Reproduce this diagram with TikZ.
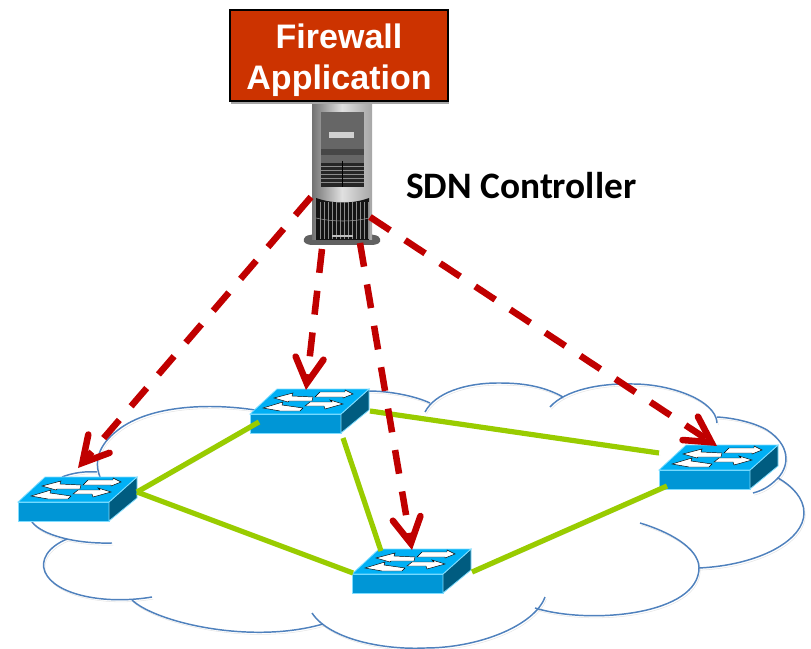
\documentclass[tikz,border=0pt]{standalone}
\usepackage{fontspec}
\setmainfont{Liberation Sans}
\newfontfamily\carl{Carlito}
\usetikzlibrary{arrows.meta,shadows,shapes.geometric}
\definecolor{fwred}{HTML}{CC3300}
\definecolor{ctlred}{HTML}{C00000}
\definecolor{linkgreen}{HTML}{99CC00}
\definecolor{cloudblue}{HTML}{4F81BD}
\definecolor{swtop}{HTML}{00B0F5}
\definecolor{swfront}{HTML}{0096D6}
\definecolor{swside}{HTML}{005C80}
\definecolor{swedge}{HTML}{80DDFF}
\tikzset{
  x=0.75pt,y=-0.75pt,
  fwbox/.style={draw=black,line width=1.3pt,fill=fwred,text=white,align=center,
    minimum width=163.5pt,minimum height=68pt,inner sep=0pt,
    font=\bfseries\fontsize{25.5}{30.5}\selectfont,
    drop shadow={shadow xshift=1pt,shadow yshift=-2.5pt,opacity=.35,fill=black}},
  swnode/.style={anchor=north west,minimum width=89.25pt,minimum height=33pt,inner sep=0pt},
  srvnode/.style={anchor=north west,minimum width=58.5pt,minimum height=105pt,inner sep=0pt},
  lbl/.style={anchor=west,inner sep=0pt,font=\carl\bfseries\fontsize{28}{32}\selectfont},
  softshadow/.style={preaction={draw=black,draw opacity=.10,transform canvas={shift={(1pt,-1.6pt)}}}},
  cloudline/.style={draw=cloudblue,line width=1.1pt,softshadow},
  link/.style={draw=linkgreen,line width=3.9pt,softshadow},
  ctl/.style={draw=ctlred,line width=4.9pt,dash pattern=on 18pt off 13.5pt,
    -{Straight Barb[length=19pt,width=21pt,line width=4.9pt,line cap=round]}},
  swarrow/.style={fill=white,draw=black,line width=.35pt},
}
\newcommand{\swbox}[3]{%
  \node[swnode] (#1) at (#2,#3) {};
  \begin{scope}[shift={(#2,#3)}]
    \fill[swfront,draw=swedge,line width=.6pt] (0,25) -- (91,25) -- (91,44) -- (0,44) -- cycle;
    \fill[swside,draw=swedge,line width=.6pt] (91,25) -- (119,0) -- (119,21) -- (91,44) -- cycle;
    \fill[swtop,draw=swedge,line width=.6pt] (27,0) -- (119,0) -- (91,25) -- (0,25) -- cycle;
    \path[swarrow] (24,9) -- (43,4) -- (42,7) -- (63,8) -- (62,12) -- (39,12) -- (38,13) -- cycle;
    \path[swarrow] (65,8) -- (70,3) -- (95,3) -- (95,1) -- (103,5) -- (93,9) -- (93,8) -- cycle;
    \path[swarrow] (13,19) -- (33,13) -- (32,16) -- (53,19) -- (50,22) -- (30,22) -- cycle;
    \path[swarrow] (55,17) -- (60,13) -- (82,13) -- (80,11) -- (93,15) -- (75,20) -- (74,17) -- cycle;
  \end{scope}}
\begin{document}
\begin{tikzpicture}
\useasboundingbox (0,0) rectangle (811,649);
% cloud
\draw[cloudline] (100,477) .. controls (94,462) and (98,445) .. (118,430) .. controls (150,405) and (210,403) .. (255,410);
\draw[cloudline] (62,477) .. controls (72,473) and (85,471) .. (97,472);
\draw[cloudline] (32,522) .. controls (42,535) and (75,544) .. (112,543);
\draw[cloudline] (67,539) .. controls (48,547) and (40,560) .. (45,572) .. controls (55,595) and (105,605) .. (152,597);
\draw[cloudline] (132,600) .. controls (155,622) and (250,645) .. (323,624);
\draw[cloudline] (312,613) .. controls (330,640) and (385,650) .. (425,648) .. controls (480,648) and (535,625) .. (545,597);
\draw[cloudline] (535,608) .. controls (590,625) and (700,615) .. (699,567) .. controls (698,548) and (670,532) .. (640,523);
\draw[cloudline] (699,568) .. controls (760,565) and (804,540) .. (804,513) .. controls (804,498) and (792,486) .. (778,478) .. controls (772,484) and (765,490) .. (753,493);
\draw[cloudline] (778,478) .. controls (790,465) and (790,445) .. (767,430) .. controls (755,423) and (735,418) .. (717,417);
\draw[cloudline] (717,423) .. controls (716,400) and (670,384) .. (633,384) .. controls (600,383) and (565,390) .. (550,407);
\draw[cloudline] (563,397) .. controls (540,384) and (515,383) .. (498,383) .. controls (465,383) and (435,393) .. (425,412);
\draw[cloudline] (430,403) .. controls (415,396) and (390,391) .. (368,391);
% switches
\swbox{sa}{18}{477}
\swbox{sb}{250}{389}
\swbox{sc}{352}{549}
\swbox{sd}{659}{445}
% links
\draw[link] ([shift={(119,15)}]sa.north west) -- ([shift={(9,33)}]sb.north west);
\draw[link] ([shift={(119,15)}]sa.north west) -- ([shift={(1,24)}]sc.north west);
\draw[link] ([shift={(93,49)}]sb.north west) -- ([shift={(29,2)}]sc.north west);
\draw[link] ([shift={(120,22)}]sb.north west) -- ([shift={(0,8)}]sd.north west);
\draw[link] ([shift={(120,23)}]sc.north west) -- ([shift={(8,41)}]sd.north west);
% server
\node[srvnode] (srv) at (303,105) {};
\begin{scope}[shift={(303,105)}]
  \fill[rounded corners=2pt,black!62] (0,137) -- (2,131) -- (12,129) -- (66,129) -- (76,131) -- (78,137) -- (72,140) -- (6,140) -- cycle;
  \fill[left color=black!55,right color=black!35,middle color=black!12] (9,0) rectangle (69,135);
  \fill[black!60] (18,7) rectangle (61,58);
  \fill[black!18] (26,27) rectangle (51,33);
  \fill[black!72] (18,44) rectangle (61,50);
  \fill[black!85] (18,58) rectangle (61,82);
  \foreach \yy in {61,65,69,73,77} \draw[black!45,line width=.4pt] (18,\yy) -- (61,\yy);
  \draw[black,line width=.6pt] (39.5,56) -- (39.5,82);
  \fill[black!92] (13,93) .. controls (30,99) and (50,99) .. (66,93) -- (66,135) -- (13,135) -- cycle;
  \foreach \xx in {17,21,...,65} \draw[black!45,line width=.4pt] (\xx,97) -- (\xx,134);
  \draw[black!40,line width=.4pt] (13,113) .. controls (30,117) and (50,117) .. (66,113);
  \fill[black!25] (29,130) rectangle (50,132);
\end{scope}
% firewall
\node[fwbox] (fw) at (339,55.5) {Firewall\rule{0pt}{26pt}\\Application};
\node[lbl] (ctl) at (406,186) {SDN Controller};
% control arrows
\draw[ctl] ([shift={(8,92)}]srv.north west) -- ([shift={(60,-9)}]sa.north west);
\draw[ctl] ([shift={(19,144)}]srv.north west) -- ([shift={(56,1)}]sb.north west);
\draw[ctl] ([shift={(57,138)}]srv.north west) -- ([shift={(60,1)}]sc.north west);
\draw[ctl] ([shift={(67,112)}]srv.north west) -- ([shift={(58,1)}]sd.north west);
\end{tikzpicture}
\end{document}
